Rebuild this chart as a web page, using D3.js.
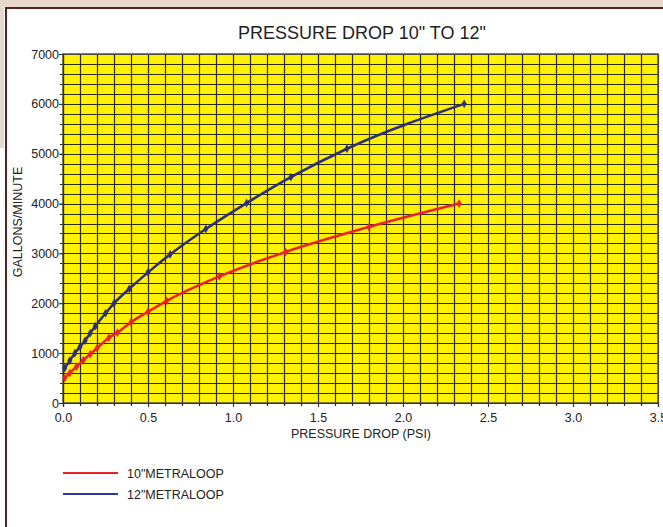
<!DOCTYPE html>
<html>
<head>
<meta charset="utf-8">
<script src="https://cdn.jsdelivr.net/npm/d3@7"></script>
<style>
  body { margin: 0; background: #fff; }
  svg { display: block; font-family: "Liberation Sans", Arial, sans-serif; }
</style>
</head>
<body>
<div id="chart"></div>
<script>
const tenInchPsi = [0.01, 0.04, 0.08, 0.12, 0.16, 0.20, 0.27, 0.32, 0.40, 0.50, 0.61, 0.92, 1.31, 1.80, 2.33];
const tenInchGpm = [500, 600, 730, 860, 980, 1100, 1310, 1410, 1620, 1830, 2050, 2540, 3030, 3530, 4000];
const twelveInchPsi = [0.01, 0.04, 0.07, 0.10, 0.13, 0.16, 0.19, 0.25, 0.30, 0.39, 0.50, 0.63, 0.84, 1.08, 1.34, 1.67, 2.36];
const twelveInchGpm = [700, 850, 1000, 1130, 1250, 1400, 1540, 1800, 2000, 2290, 2620, 2980, 3490, 4010, 4530, 5100, 6000];
const xTickLabels = ['0.0', '0.5', '1.0', '1.5', '2.0', '2.5', '3.0', '3.5'];
const yTickLabels = ['0', '1000', '2000', '3000', '4000', '5000', '6000', '7000'];
const seriesNames = ['10"METRALOOP', '12"METRALOOP'];

const width = 663;
const height = 527;
const plot = { left: 63, right: 658, top: 54, bottom: 403 };
const redLine = '#ee2127';
const blueLine = '#2c2f7c';

const svg = d3.select('#chart')
  .append('svg')
  .attr('width', width)
  .attr('height', height);

// page frame
svg.append('rect').attr('x', 0).attr('y', 0).attr('width', width).attr('height', 7).attr('fill', '#e6d8ca');
svg.append('rect').attr('x', 0).attr('y', 0).attr('width', 4).attr('height', 148).attr('fill', '#e6d8ca');
svg.append('line').attr('x1', 5).attr('x2', width).attr('y1', 8).attr('y2', 8)
  .attr('stroke', '#5a2020').attr('stroke-width', 2);
svg.append('line').attr('x1', 6).attr('x2', 6).attr('y1', 7).attr('y2', height)
  .attr('stroke', '#5a2020').attr('stroke-width', 2);

const xScale = d3.scaleLinear().domain([0, 3.5]).range([plot.left, plot.right]);
const yScale = d3.scaleLinear().domain([0, 7000]).range([plot.bottom, plot.top]);

svg.append('rect')
  .attr('x', plot.left)
  .attr('y', plot.top)
  .attr('width', plot.right - plot.left)
  .attr('height', plot.bottom - plot.top)
  .attr('fill', '#fff200');

// grid
const xMinor = d3.range(0, 36).map((i) => i / 10);
const yMinor = d3.range(0, 36).map((i) => i * 200);

svg.append('g').selectAll('line').data(xMinor).enter()
  .append('line')
  .attr('x1', (d) => Math.round(xScale(d)) + 0.5)
  .attr('x2', (d) => Math.round(xScale(d)) + 0.5)
  .attr('y1', plot.top)
  .attr('y2', plot.bottom + 3)
  .attr('stroke', '#2b2912')
  .attr('stroke-width', 1.2);

svg.append('g').selectAll('line').data(yMinor).enter()
  .append('line')
  .attr('x1', plot.left - 3)
  .attr('x2', plot.right)
  .attr('y1', (d) => Math.round(yScale(d)) + 0.5)
  .attr('y2', (d) => Math.round(yScale(d)) + 0.5)
  .attr('stroke', '#2b2912')
  .attr('stroke-width', 1.2);

// plot border
svg.append('rect')
  .attr('x', plot.left)
  .attr('y', plot.top)
  .attr('width', plot.right - plot.left)
  .attr('height', plot.bottom - plot.top)
  .attr('fill', 'none')
  .attr('stroke', '#555')
  .attr('stroke-width', 1.5);

// axes
const xAxis = d3.axisBottom(xScale)
  .tickValues(xTickLabels.map(Number))
  .tickFormat((d, i) => xTickLabels[i])
  .tickSize(4);
const yAxis = d3.axisLeft(yScale)
  .tickValues(yTickLabels.map(Number))
  .tickFormat((d, i) => yTickLabels[i])
  .tickSize(4);

const gx = svg.append('g')
  .attr('transform', `translate(0 ${plot.bottom})`)
  .call(xAxis);
const gy = svg.append('g')
  .attr('transform', `translate(${plot.left} 0)`)
  .call(yAxis);

[gx, gy].forEach((g) => {
  g.select('.domain').attr('stroke', '#333').attr('stroke-width', 1.2);
  g.selectAll('.tick line').attr('stroke', '#333');
  g.selectAll('.tick text')
    .attr('fill', '#222')
    .style('font-size', '12.5px')
    .style('font-family', '"Liberation Sans", Arial, sans-serif');
});
gx.selectAll('.tick text').attr('dy', '0.9em').attr('y', 8);
gy.selectAll('.tick text').attr('x', -4);

// curves
const series = [
  { psi: tenInchPsi, gpm: tenInchGpm, color: redLine },
  { psi: twelveInchPsi, gpm: twelveInchGpm, color: blueLine },
];

const line = d3.line()
  .x((d) => xScale(d[0]))
  .y((d) => yScale(d[1]))
  .curve(d3.curveMonotoneX);

series.forEach((s) => {
  const pts = s.psi.map((p, i) => [p, s.gpm[i]]);
  svg.append('path')
    .datum(pts)
    .attr('d', line)
    .attr('fill', 'none')
    .attr('stroke', s.color)
    .attr('stroke-width', 2.6);
  svg.append('g').selectAll('path').data(pts).enter()
    .append('path')
    .attr('d', d3.symbol(d3.symbolDiamond, 22))
    .attr('transform', (d) => `translate(${xScale(d[0])} ${yScale(d[1])})`)
    .attr('fill', s.color);
});

// titles
svg.append('text')
  .attr('x', 362)
  .attr('y', 39)
  .attr('text-anchor', 'middle')
  .attr('fill', '#222')
  .style('font-size', '18px')
  .text('PRESSURE DROP 10" TO 12"');

svg.append('text')
  .attr('x', 361)
  .attr('y', 438)
  .attr('text-anchor', 'middle')
  .attr('fill', '#222')
  .style('font-size', '12.5px')
  .text('PRESSURE DROP (PSI)');

svg.append('text')
  .attr('transform', `translate(22 ${222})rotate(-90)`)
  .attr('text-anchor', 'middle')
  .attr('fill', '#222')
  .style('font-size', '12.5px')
  .text('GALLONS/MINUTE');

// legend
const legend = svg.append('g').attr('transform', 'translate(63 473)');
[redLine, '#2e3a9a'].forEach((c, i) => {
  legend.append('line')
    .attr('x1', 0).attr('x2', 55)
    .attr('y1', i * 21).attr('y2', i * 21)
    .attr('stroke', c)
    .attr('stroke-width', 1.8);
  legend.append('text')
    .attr('x', 64)
    .attr('y', i * 21 + 4.5)
    .attr('fill', '#222')
    .style('font-size', '12.5px')
    .text(seriesNames[i]);
});
</script>
</body>
</html>
